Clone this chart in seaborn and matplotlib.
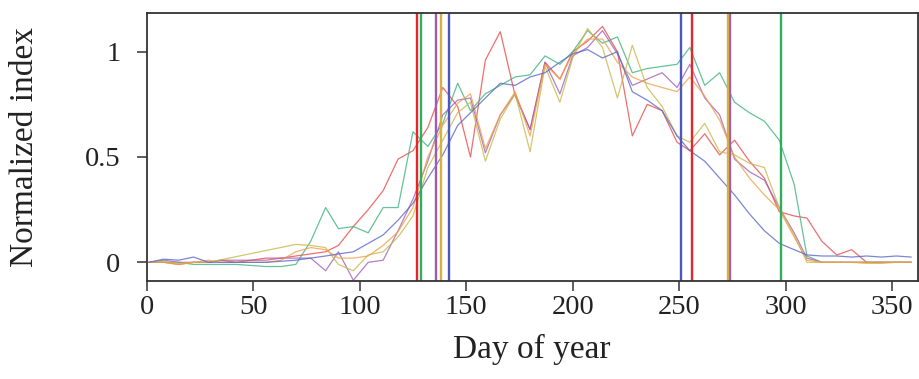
import numpy as np
import pandas as pd
import matplotlib
matplotlib.use("Agg")
import matplotlib.pyplot as plt
import seaborn as sns

days = [1, 8, 15, 22, 29, 35, 42, 49, 56, 63, 70, 77, 84, 90, 97, 104, 111, 118,
        125, 132, 139, 146, 152, 159, 166, 173, 180, 187, 194, 200, 207, 214, 221,
        228, 235, 242, 249, 255, 262, 269, 276, 283, 290, 297, 304, 310, 317, 324,
        331, 338, 345, 352, 359]

red = [0.0, 0.0, -0.01, 0.0, 0.0, 0.01, 0.0, 0.01, 0.02, 0.02, 0.03, 0.04, 0.05,
       0.08, 0.17, 0.25, 0.34, 0.49, 0.53, 0.64, 0.83, 0.74, 0.50, 0.96, 1.095,
       0.79, 0.63, 0.95, 0.87, 1.0, 1.05, 1.12, 1.0, 0.60, 0.75, 0.72, 0.57, 0.53,
       0.61, 0.51, 0.58, 0.48, 0.40, 0.24, 0.22, 0.21, 0.10, 0.035, 0.06, 0.0, 0.0,
       0.0, 0.0]
green = [0.0, 0.0, 0.0, -0.01, -0.01, -0.01, -0.01, -0.015, -0.02, -0.02, -0.01,
         0.10, 0.26, 0.16, 0.17, 0.14, 0.26, 0.26, 0.62, 0.55, 0.66, 0.85, 0.72,
         0.80, 0.84, 0.88, 0.89, 0.98, 0.94, 1.0, 1.10, 1.04, 1.07, 0.90, 0.92,
         0.93, 0.94, 1.02, 0.84, 0.90, 0.76, 0.71, 0.67, 0.58, 0.37, 0.03, 0.0,
         0.0, 0.0, 0.0, 0.0, 0.0, 0.0]
purple = [0.0, 0.01, 0.0, 0.0, 0.0, 0.01, 0.01, 0.01, 0.01, 0.02, 0.02, 0.02,
          -0.04, 0.05, -0.085, 0.0, 0.01, 0.15, 0.30, 0.48, 0.70, 0.77, 0.78,
          0.52, 0.70, 0.80, 0.63, 0.95, 0.80, 0.98, 1.02, 1.10, 0.99, 0.84, 0.87,
          0.90, 0.83, 0.94, 0.78, 0.70, 0.49, 0.43, 0.39, 0.26, 0.14, 0.02, 0.0,
          0.0, 0.0, 0.0, 0.0, 0.0, 0.0]
gold = [0.0, 0.005, -0.005, 0.0, 0.0, np.nan, np.nan, np.nan, np.nan, np.nan,
        0.085, 0.08, 0.07, -0.01, -0.04, 0.035, 0.05, 0.12, 0.22, 0.45, 0.58,
        0.71, 0.76, 0.48, 0.68, 0.80, 0.525, 0.93, 0.76, 0.97, 1.11, 1.02, 0.78,
        1.03, 0.83, 0.74, 0.60, 0.57, 0.66, 0.525, 0.51, 0.47, 0.45, 0.26, 0.13,
        0.0, 0.0, 0.0, 0.0, 0.0, 0.0, 0.0, 0.0]
orange = [0.0, 0.0, -0.01, 0.0, 0.01, 0.0, 0.0, 0.0, 0.0, 0.01, 0.05, 0.07, 0.06,
          0.02, 0.02, 0.03, 0.08, 0.145, 0.26, 0.50, 0.65, 0.755, 0.80, 0.54,
          0.70, 0.81, 0.60, 0.94, 0.87, 0.99, 1.06, 1.06, 0.95, 0.88, 0.85, 0.83,
          0.81, 0.88, 0.79, 0.675, 0.50, 0.40, 0.32, 0.25, 0.12, 0.01, 0.0, 0.0,
          0.0, -0.005, -0.005, 0.0, 0.0]
blue = [0.0, 0.015, 0.01, 0.025, 0.0, 0.0, 0.0, 0.0, 0.0, 0.005, 0.01, 0.02, 0.03,
        0.04, 0.05, 0.09, 0.13, 0.20, 0.28, 0.40, 0.51, 0.65, 0.71, 0.78, 0.85,
        0.84, 0.88, 0.90, 0.95, 0.99, 1.01, 0.97, 1.0, 0.81, 0.77, 0.72, 0.60,
        0.53, 0.48, 0.40, 0.32, 0.23, 0.15, 0.09, 0.06, 0.035, 0.03, 0.03, 0.025,
        0.03, 0.025, 0.03, 0.025]

series_names = ["red", "green", "purple", "gold", "orange", "blue"]
series_values = [red, green, purple, gold, orange, blue]
line_colors = {"red": "#ec4a4a", "green": "#3fb37f", "purple": "#a060b8",
               "gold": "#c9b84a", "orange": "#f0a048", "blue": "#5a68c8"}

# start / end of season markers
marker_series = ["red", "green", "purple", "gold", "blue"]
sos = [127, 129, 136, 138, 142]
eos = [256, 298, 274, 273, 251]
marker_colors = {"red": "#e8262a", "green": "#2fae5e", "purple": "#a05cb0",
                 "gold": "#d8b040", "blue": "#4a58c0"}

x_ticks = [0, 50, 100, 150, 200, 250, 300, 350]
y_ticks = [0, 0.5, 1]
y_tick_labels = ["0", "0.5", "1"]

rows = []
for name, vals in zip(series_names, series_values):
    for d, v in zip(days, vals):
        rows.append({"day": d, "value": v, "series": name})
df = pd.DataFrame(rows).dropna()

sns.set_style("ticks")
plt.rcParams["font.family"] = ["Liberation Serif", "DejaVu Serif"]

fig = plt.figure(figsize=(9.2, 3.79), dpi=100)
ax = fig.add_axes([0.1595, 0.2595, 0.838, 0.707])

sns.lineplot(data=df, x="day", y="value", hue="series", palette=line_colors,
             hue_order=series_names, linewidth=0.9, alpha=0.8, legend=False,
             ax=ax, estimator=None, sort=True)

for name, s, e in zip(marker_series, sos, eos):
    ax.axvline(s, color=marker_colors[name], linewidth=1.7)
    ax.axvline(e, color=marker_colors[name], linewidth=1.7)

ax.set_xlim(0, 362)
ax.set_ylim(-0.087, 1.185)
ax.set_xticks(x_ticks)
ax.set_yticks(y_ticks)
ax.set_yticklabels(y_tick_labels)

for sp in ax.spines.values():
    sp.set_color("#333333")
    sp.set_linewidth(1.3)

ax.tick_params(axis="both", direction="out", length=7, width=1.1,
               color="#333333", labelsize=20.5, labelcolor="#222222")
ax.tick_params(axis="y", pad=12)
ax.tick_params(axis="x", pad=3)

ax.set_xlabel("Day of year", fontsize=24, color="#222222")
ax.set_ylabel("Normalized index", fontsize=24, color="#222222")
ax.xaxis.set_label_coords(0.5, -0.2)
ax.yaxis.set_label_coords(-0.138, 0.5)

fig.savefig("out.png", dpi=100)
